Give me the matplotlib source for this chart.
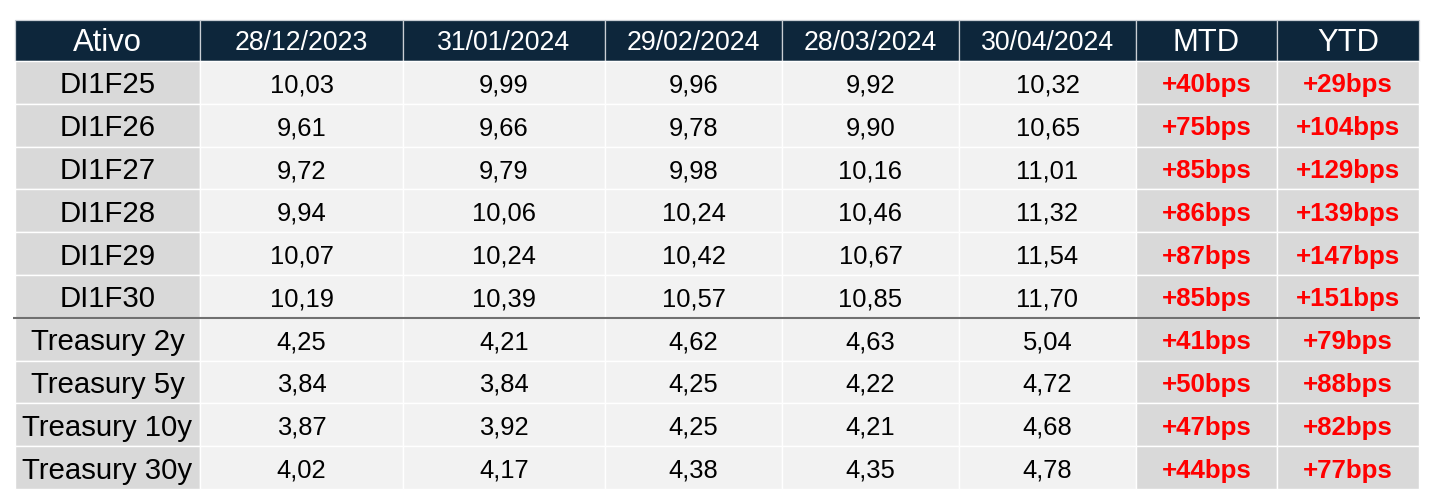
import matplotlib.pyplot as plt
from matplotlib.patches import Rectangle

# Table content
header = ["Ativo", "28/12/2023", "31/01/2024", "29/02/2024", "28/03/2024", "30/04/2024", "MTD", "YTD"]
assets = ["DI1F25", "DI1F26", "DI1F27", "DI1F28", "DI1F29", "DI1F30",
          "Treasury 2y", "Treasury 5y", "Treasury 10y", "Treasury 30y"]
rates = [
    ["10,03", "9,99", "9,96", "9,92", "10,32"],
    ["9,61", "9,66", "9,78", "9,90", "10,65"],
    ["9,72", "9,79", "9,98", "10,16", "11,01"],
    ["9,94", "10,06", "10,24", "10,46", "11,32"],
    ["10,07", "10,24", "10,42", "10,67", "11,54"],
    ["10,19", "10,39", "10,57", "10,85", "11,70"],
    ["4,25", "4,21", "4,62", "4,63", "5,04"],
    ["3,84", "3,84", "4,25", "4,22", "4,72"],
    ["3,87", "3,92", "4,25", "4,21", "4,68"],
    ["4,02", "4,17", "4,38", "4,35", "4,78"],
]
mtd = ["+40bps", "+75bps", "+85bps", "+86bps", "+87bps", "+85bps", "+41bps", "+50bps", "+47bps", "+44bps"]
ytd = ["+29bps", "+104bps", "+129bps", "+139bps", "+147bps", "+151bps", "+79bps", "+88bps", "+82bps", "+77bps"]

# Layout (pixel units)
col_edges = [15, 200, 403, 605, 782, 959, 1136, 1277, 1419]
top, head_h = 20, 41
row_h = 42.8
n_di = 6

navy = "#0d263b"
gray_dark = "#d9d9d9"
gray_light = "#f2f2f2"
red = "#ff0000"
font = "Liberation Sans"

fig = plt.figure(figsize=(14.34, 5.04), dpi=100)
ax = fig.add_axes([0, 0, 1, 1])
ax.set_xlim(0, 1434)
ax.set_ylim(504, 0)
ax.axis("off")

# header row
for j, label in enumerate(header):
    x0, x1 = col_edges[j], col_edges[j + 1]
    ax.add_patch(Rectangle((x0, top), x1 - x0, head_h, facecolor=navy,
                           edgecolor="#c9ced4", lw=0.9))
    size = 19.2 if "/" in label else 22.3
    ax.text((x0 + x1) / 2, top + head_h / 2 + 2.5, label, color="white", fontsize=size,
            ha="center", va="center", family=font)

# body rows
for i, asset in enumerate(assets):
    y0 = top + head_h + i * row_h
    yc = y0 + row_h / 2 + 3
    cells = [asset] + rates[i] + [mtd[i], ytd[i]]
    for j, val in enumerate(cells):
        x0, x1 = col_edges[j], col_edges[j + 1]
        fc = gray_light if 1 <= j <= 5 else gray_dark
        ax.add_patch(Rectangle((x0, y0), x1 - x0, row_h, facecolor=fc,
                               edgecolor="white", lw=1.0))
        if j == 0:
            ax.text((x0 + x1) / 2, yc, val, fontsize=21.2, ha="center", va="center",
                    color="black", family=font)
        elif j <= 5:
            ax.text((x0 + x1) / 2, yc, val, fontsize=18.4, ha="center", va="center",
                    color="black", family=font)
        else:
            ax.text((x0 + x1) / 2, yc, val, fontsize=18.6, ha="center", va="center",
                    color=red, fontweight="bold", family=font)

# separator between DI futures and Treasuries
sep_y = top + head_h + n_di * row_h
ax.plot([col_edges[0] - 2, col_edges[-1] + 1], [sep_y, sep_y], color="#707070", lw=1.5,
        solid_capstyle="butt")

fig.savefig("out.png", dpi=100, facecolor="white")
